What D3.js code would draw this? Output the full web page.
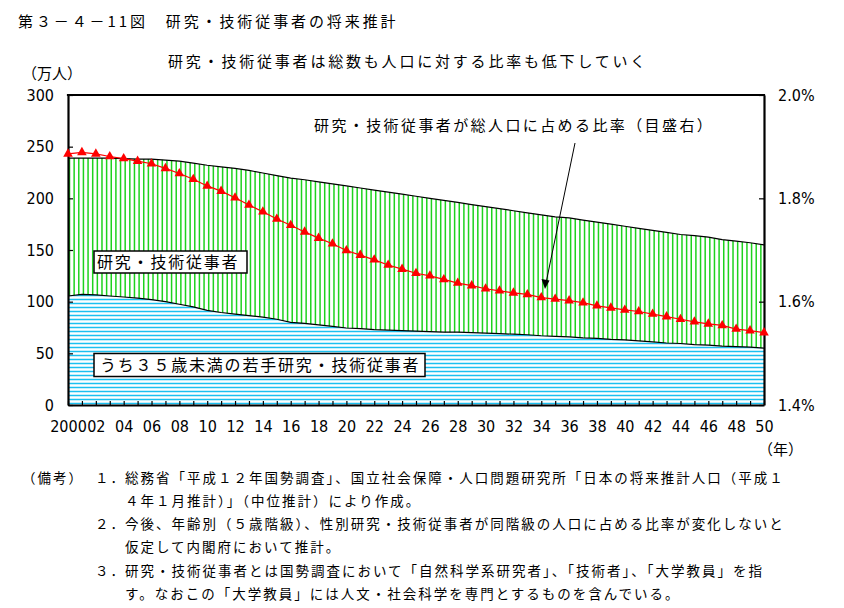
<!DOCTYPE html>
<html>
<head>
<meta charset="utf-8">
<script src="https://cdn.jsdelivr.net/npm/d3@7"></script>
<style>
  html, body { margin: 0; padding: 0; background: #fff; }
  svg { display: block; }
  .jp { font-family: "Noto Sans CJK JP", "Noto Sans CJK SC", sans-serif; fill: #000; }
  .num { font-family: "Liberation Sans Narrow", "DejaVu Sans Condensed", "Liberation Sans", sans-serif; font-size: 16px; fill: #000; }
</style>
</head>
<body>
<script>
// ---------- data ----------
const years = [2000,2001,2002,2003,2004,2005,2006,2007,2008,2009,2010,2011,2012,2013,2014,2015,2016,2017,2018,2019,2020,
  2021,2022,2023,2024,2025,2026,2027,2028,2029,2030,2031,2032,2033,2034,2035,2036,2037,2038,2039,2040,
  2041,2042,2043,2044,2045,2046,2047,2048,2049,2050];
// 研究・技術従事者（万人）
const totalWorkers = [239,239,239,239,238.5,238,238,237,236,234,232,230.5,229,227,224.5,222,219.5,218,216,214,212,
  210,208,206,204,202,200,198,196,194,192,190,188,186,184,182,181,179,177,175,173,
  171,169,167,165,164,162.5,160,158.5,157,155];
// うち35歳未満（万人）
const youngWorkers = [105.5,107,106.5,105.5,104.5,103.5,102,100,97.5,95,91.5,89.5,88,86.5,85,83,80,79,77.5,76,74.5,
  74,73,72.5,72,71.5,71,70.5,70.5,70,69.5,69,68.5,68,67,66.5,66,65,64.5,63.5,63,
  62,61,60,59.5,58.5,58,57,56.5,56,55];
// 総人口に占める比率（%）
const ratioPct = [1.886,1.889,1.886,1.881,1.877,1.872,1.867,1.858,1.848,1.837,1.824,1.814,1.801,1.787,1.774,1.760,1.748,
  1.735,1.723,1.712,1.699,1.690,1.681,1.671,1.663,1.655,1.650,1.643,1.636,1.631,1.625,1.621,1.617,1.614,1.608,1.605,1.602,
  1.598,1.592,1.588,1.584,1.581,1.576,1.571,1.566,1.561,1.557,1.554,1.547,1.544,1.540];
const leftTicks = [0,50,100,150,200,250,300];
const rightTicks = [1.4,1.6,1.8,2.0];
const xLabelYears = [2000,2002,2004,2006,2008,2010,2012,2014,2016,2018,2020,2022,2024,2026,2028,2030,2032,2034,2036,2038,2040,2042,2044,2046,2048,2050];

const titleText = "第３－４－11図　研究・技術従事者の将来推計";
const subtitleText = "研究・技術従事者は総数も人口に対する比率も低下していく";
const unitLeft = "（万人）";
const unitX = "（年）";
const labelTotal = "研究・技術従事者";
const labelYoung = "うち３５歳未満の若手研究・技術従事者";
const labelRatio = "研究・技術従事者が総人口に占める比率（目盛右）";
const notes = [
  {x: 22, text: "（備考）"},
  {x: 95, text: "１．"},
  {x: 125, text: "総務省「平成１２年国勢調査」、国立社会保障・人口問題研究所「日本の将来推計人口（平成１"},
  {x: 125, text: "４年１月推計）」（中位推計）により作成。", line: 1},
  {x: 95, text: "２．", line: 2},
  {x: 125, text: "今後、年齢別（５歳階級）、性別研究・技術従事者が同階級の人口に占める比率が変化しないと", line: 2},
  {x: 125, text: "仮定して内閣府において推計。", line: 3},
  {x: 95, text: "３．", line: 4},
  {x: 125, text: "研究・技術従事者とは国勢調査において「自然科学系研究者」、「技術者」、「大学教員」を指", line: 4},
  {x: 125, text: "す。なおこの「大学教員」には人文・社会科学を専門とするものを含んでいる。", line: 5}
];

// ---------- layout ----------
const W = 844, H = 608;
const L = 68, R = 764, T = 95, B = 405;

const svg = d3.select("body").append("svg").attr("width", W).attr("height", H);

const x = d3.scaleLinear().domain([2000, 2050]).range([L, R]);
const yL = d3.scaleLinear().domain([0, 300]).range([B, T]);
const yR = d3.scaleLinear().domain([1.4, 2.0]).range([B, T]);

const dTotal = years.map((yr, i) => ({yr, v: totalWorkers[i]}));
const dYoung = years.map((yr, i) => ({yr, v: youngWorkers[i]}));
const dRatio = years.map((yr, i) => ({yr, v: ratioPct[i]}));

const areaL = d3.area().x(d => x(d.yr)).y0(yL(0)).y1(d => yL(d.v));
const lineL = d3.line().x(d => x(d.yr)).y(d => yL(d.v));
const lineR = d3.line().x(d => x(d.yr)).y(d => yR(d.v));

// clip paths for hatched areas
const defs = svg.append("defs");
defs.append("clipPath").attr("id", "clipTotal").append("path").datum(dTotal).attr("d", areaL);
defs.append("clipPath").attr("id", "clipYoung").append("path").datum(dYoung).attr("d", areaL);

// green vertical hatch (total)
const gGreen = svg.append("g").attr("clip-path", "url(#clipTotal)");
gGreen.append("path").datum(dTotal).attr("d", areaL).attr("fill", "#fff");
const vStep = (R - L) / 150;
gGreen.selectAll("line").data(d3.range(0, 151)).join("line")
  .attr("x1", i => L + 1.5 + i * vStep).attr("x2", i => L + 1.5 + i * vStep)
  .attr("y1", T).attr("y2", B)
  .attr("stroke", "#1ed21e").attr("stroke-width", 1.5);

// blue horizontal hatch (young)
const gBlue = svg.append("g").attr("clip-path", "url(#clipYoung)");
gBlue.append("path").datum(dYoung).attr("d", areaL).attr("fill", "#fff");
gBlue.selectAll("line").data(d3.range(0, 30)).join("line")
  .attr("x1", L).attr("x2", R)
  .attr("y1", k => B - 1.5 - 4 * k).attr("y2", k => B - 1.5 - 4 * k)
  .attr("stroke", "#1cc0f0").attr("stroke-width", 1.5);

svg.append("path").datum(dTotal).attr("d", lineL).attr("fill", "none").attr("stroke", "#000").attr("stroke-width", 1.2);
svg.append("path").datum(dYoung).attr("d", lineL).attr("fill", "none").attr("stroke", "#000").attr("stroke-width", 1.2);

// axes
const axL = svg.append("g").attr("transform", `translate(${L},0)`)
  .call(d3.axisLeft(yL).tickValues(leftTicks).tickSizeInner(-5).tickSizeOuter(0).tickPadding(14));
const axR = svg.append("g").attr("transform", `translate(${R},0)`)
  .call(d3.axisRight(yR).tickValues(rightTicks).tickSizeInner(-5).tickSizeOuter(0).tickPadding(14)
    .tickFormat(d => d3.format(".1f")(d) + "%"));
const axB = svg.append("g").attr("transform", `translate(0,${B})`)
  .call(d3.axisBottom(x).tickValues(years).tickSizeInner(-4).tickSizeOuter(0).tickPadding(16)
    .tickFormat(d => xLabelYears.includes(d) ? (d === 2000 ? "2000" : String(d).slice(2)) : ""));
[axL, axR, axB].forEach(g => {
  g.select(".domain").attr("stroke", "#000").attr("stroke-width", 2.2);
  g.selectAll(".tick line").attr("stroke", "#000").attr("stroke-width", 1.2);
  g.selectAll(".tick text").attr("class", "num").attr("fill", "#000").style("font-size", "16px")
    .style("font-family", '"Liberation Sans Narrow", "DejaVu Sans Condensed", "Liberation Sans", sans-serif');
});
// top border
svg.append("line").attr("x1", L - 1.1).attr("x2", R + 1.1).attr("y1", yL(300)).attr("y2", yL(300))
  .attr("stroke", "#000").attr("stroke-width", 2.2);

// ratio line + markers
svg.append("path").datum(dRatio).attr("d", lineR).attr("fill", "none").attr("stroke", "#ff0000").attr("stroke-width", 1.2);
svg.append("g").selectAll("path").data(dRatio).join("path")
  .attr("d", d3.symbol(d3.symbolTriangle, 40))
  .attr("transform", d => `translate(${x(d.yr)},${yR(d.v)})`)
  .attr("fill", "#ff0000");

// label boxes
function boxLabel(text, bx, by, bw, bh, tx) {
  svg.append("rect").attr("x", bx).attr("y", by).attr("width", bw).attr("height", bh)
    .attr("fill", "#fff").attr("stroke", "#000").attr("stroke-width", 1.5);
  svg.append("text").attr("class", "jp").attr("x", tx).attr("y", by + bh / 2).attr("dy", "0.36em")
    .style("font-size", "16px").style("letter-spacing", "1.8px").text(text);
}
boxLabel(labelTotal, 94, 251, 153, 22, 97);
boxLabel(labelYoung, 94, 353.5, 331, 23, 100);

// ratio annotation
svg.append("text").attr("class", "jp").attr("x", 314).attr("y", 126).attr("dy", "0.36em")
  .style("font-size", "15px").style("letter-spacing", "2.4px").text(labelRatio);
svg.append("line").attr("x1", 575).attr("y1", 143).attr("x2", 546).attr("y2", 283)
  .attr("stroke", "#000").attr("stroke-width", 1);
svg.append("path").attr("d", "M545,289 L541.5,279 L549.5,280.5 Z").attr("fill", "#000");

// titles
svg.append("text").attr("class", "jp").attr("x", 18).attr("y", 22).attr("dy", "0.36em")
  .style("font-size", "15px").style("letter-spacing", "2.9px").text(titleText);
svg.append("text").attr("class", "jp").attr("x", 168).attr("y", 62).attr("dy", "0.36em")
  .style("font-size", "15px").style("letter-spacing", "2.8px").text(subtitleText);
svg.append("text").attr("class", "jp").attr("x", 22).attr("y", 74).attr("dy", "0.36em")
  .style("font-size", "15px").style("letter-spacing", "0px").text(unitLeft);
svg.append("text").attr("class", "jp").attr("x", 758).attr("y", 450).attr("dy", "0.36em")
  .style("font-size", "15px").text(unitX);

// notes
const noteY0 = 478, noteDy = 23.2;
notes.forEach(n => {
  svg.append("text").attr("class", "jp").attr("x", n.x).attr("y", noteY0 + (n.line || 0) * noteDy).attr("dy", "0.36em")
    .style("font-size", "13.5px").style("letter-spacing", "2px").text(n.text);
});
</script>
</body>
</html>
